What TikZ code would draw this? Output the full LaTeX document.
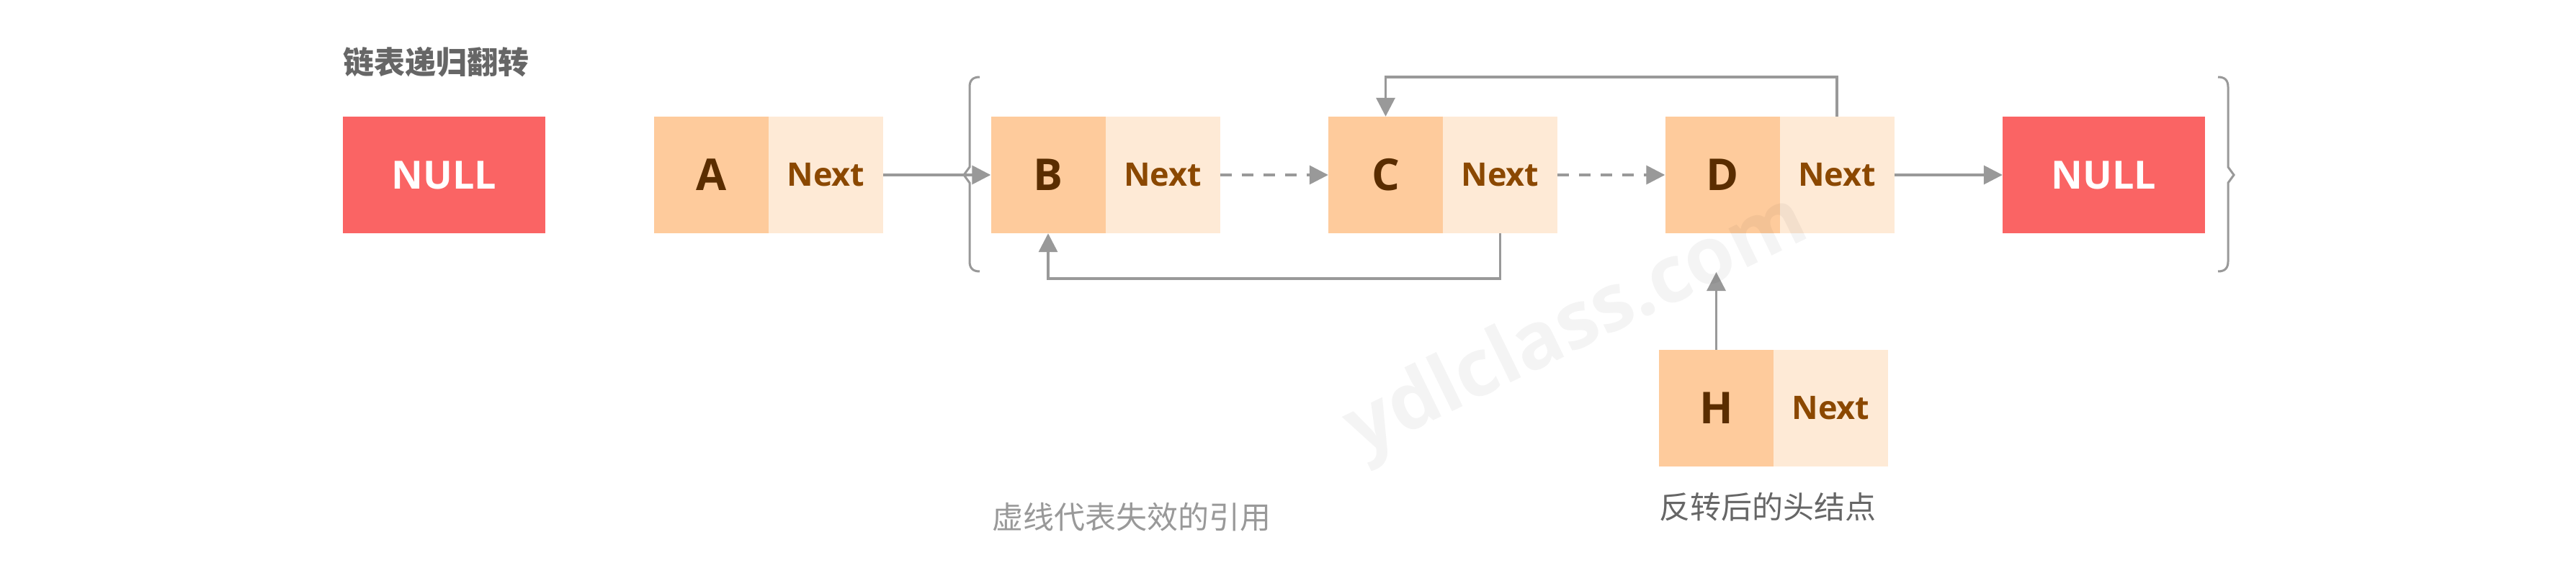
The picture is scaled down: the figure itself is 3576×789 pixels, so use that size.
\documentclass[tikz,border=0pt]{standalone}
\usepackage{fontspec}
\setmainfont{Open Sans}
\newfontfamily\cjkfont{Noto Sans CJK SC}
\newfontfamily\wmfont{Open Sans}
\usetikzlibrary{arrows.meta}
\definecolor{linegray}{HTML}{999999}
\definecolor{capgray}{HTML}{999999}
\definecolor{darkgray}{HTML}{666666}
\definecolor{lhfill}{HTML}{FECB9C}
\definecolor{rhfill}{HTML}{FEEAD6}
\definecolor{nullfill}{HTML}{FA6464}
\definecolor{lettercol}{HTML}{5A2D00}
\definecolor{nextcol}{HTML}{8B4800}
\tikzset{
  lhalf/.style={rectangle, inner sep=0pt, minimum width=159pt, minimum height=162pt,
    fill=lhfill, text=lettercol, font=\bfseries\fontsize{61pt}{70pt}\selectfont},
  rhalf/.style={rectangle, inner sep=0pt, minimum width=159pt, minimum height=162pt,
    fill=rhfill, text=nextcol, font=\bfseries\fontsize{45pt}{52pt}\selectfont},
  nullbox/.style={rectangle, inner sep=0pt, minimum width=281pt, minimum height=162pt,
    fill=nullfill, text=white, font=\bfseries\fontsize{54pt}{62pt}\selectfont},
  conn/.style={draw=linegray, line width=3.5pt, -{Triangle[length=26pt,width=26pt]}},
  deadref/.style={dash pattern=on 16pt off 14pt},
  bracepath/.style={draw=linegray, line width=3pt},
  titletext/.style={inner sep=0pt, text=darkgray, font=\cjkfont\bfseries\fontsize{43pt}{50pt}\selectfont},
  captext/.style={inner sep=0pt, font=\cjkfont\fontsize{43pt}{50pt}\selectfont},
  wmark/.style={inner sep=0pt, text=black, opacity=0.045, rotate=26,
    font=\wmfont\bfseries\fontsize{110pt}{120pt}\selectfont}
}
\begin{document}
\begin{tikzpicture}[x=1pt,y=-1pt]
\useasboundingbox (0,0) rectangle (3576,789);
\fill[white] (0,0) rectangle (3576,789);

\node[titletext] (title) at (605,86) {链表递归翻转};

\node[nullbox] (null1) at (616.5,243) {NULL};

\node[lhalf] (aL) at (987.5,243) {A};
\node[rhalf] (aR) at (1146.5,243) {Next};

\node[lhalf] (bL) at (1455,243) {B};
\node[rhalf] (bR) at (1614,243) {Next};

\node[lhalf] (cL) at (1923.5,243) {C};
\node[rhalf] (cR) at (2082.5,243) {Next};

\node[lhalf] (dL) at (2391,243) {D};
\node[rhalf] (dR) at (2550,243) {Next};

\node[nullbox] (null2) at (2920.5,243) {NULL};

\node[lhalf] (hL) at (2382.5,567) {H};
\node[rhalf] (hR) at (2541.5,567) {Next};

\coordinate (hTip) at (2382.5,378);

% connectors
\draw[conn] (aR.east) -- (bL.west);
\draw[conn, deadref] (bR.east) -- (cL.west);
\draw[conn, deadref] (cR.east) -- (dL.west);
\draw[conn] (dR.east) -- (null2.west);
\draw[conn] (dR.north) -- ++(0,-55) -| (cL.north);
\draw[conn] (cR.south) -- ++(0,63) -| (bL.south);
\draw[conn] (hL.north) -- (hTip);

% braces
\draw[bracepath] (1360,107) .. controls (1350,107) and (1346,112) .. (1346,121)
  -- (1346,232) -- (1338,243) -- (1346,254) -- (1346,363)
  .. controls (1346,372) and (1350,377) .. (1360,377);
\draw[bracepath] (3079,107) .. controls (3089,107) and (3093,112) .. (3093,121)
  -- (3093,232) -- (3101,243) -- (3093,254) -- (3093,363)
  .. controls (3093,372) and (3089,377) .. (3079,377);

% captions
\node[captext, text=capgray] (cap1) at (1571,718) {虚线代表失效的引用};
\node[captext, text=darkgray] (cap2) at (2454,704) {反转后的头结点};

% watermark
\node[wmark] (wm) at (2190,455) {ydlclass.com};
\end{tikzpicture}
\end{document}
